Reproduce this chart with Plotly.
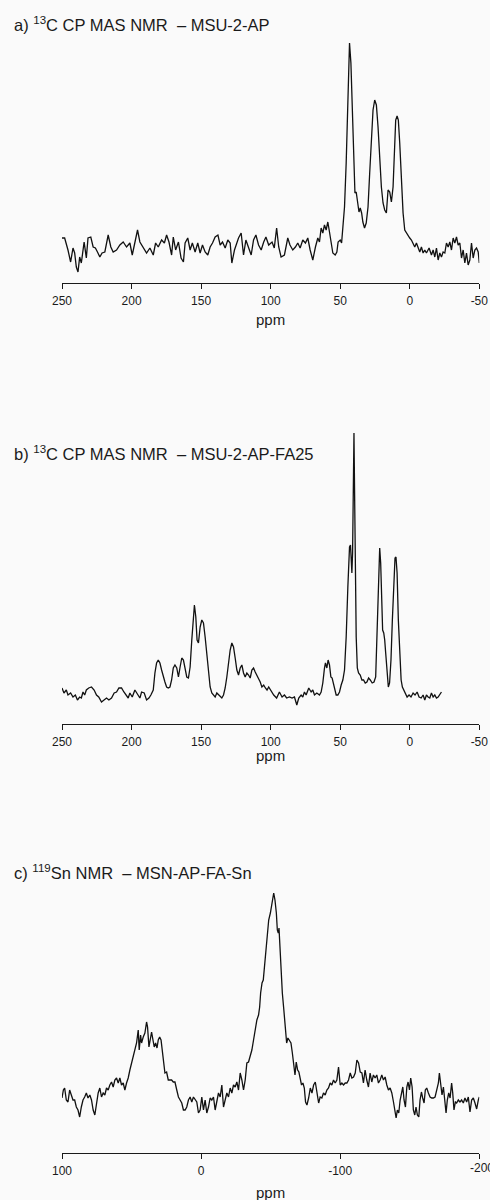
import plotly.graph_objects as go

# ---------------- Panel a: 13C CP MAS NMR - MSU-2-AP ----------------
a_ppm = [250, 248.1, 245.7, 243.8, 242.1, 240.9, 239.7, 238.5, 237.3, 236.1,
         234.1, 232.5, 231.3, 229.3, 227.6, 226.0, 224.5, 222.8, 221.2, 219.2,
         216.8, 214.9, 213.2, 210.8, 208.4, 206.0, 203.6, 201.2, 199.5, 197.6,
         195.7, 194.0, 191.6, 189.2, 186.8, 184.4, 182.7, 180.8, 178.4, 176.4,
         174.8, 173.1, 171.2, 170.0, 168.3, 166.3, 164.4, 162.7, 161.5, 159.6,
         157.9, 156.3, 154.3, 152.4, 150.7, 149.0, 147.1, 145.2, 143.5, 141.8,
         139.9, 137.9, 136.3, 134.6, 132.7, 130.8, 129.1, 127.9, 126.0, 124.3,
         123.1, 121.2, 119.5, 117.8, 115.9, 114.0, 112.3, 110.6, 108.7, 106.8,
         105.0, 103.4, 101.4, 99.0,
         97.4, 95.7, 94.2, 92.5, 90.1, 87.7, 86.1, 84.1, 82.2, 80.5,
         78.8, 76.9, 75.0, 73.3, 71.6, 69.7, 67.8, 66.1, 64.9, 63.7,
         62.5, 61.3, 60.1, 58.9, 57.7, 56.5, 55.3, 53.6, 52.4, 51.5,
         50.0, 49.0, 48.1, 46.9, 45.7, 44.5, 43.3, 42.3, 41.3, 40.4,
         39.4, 38.5, 37.5, 36.5, 35.6, 34.6, 33.7, 32.5, 31.3, 30.0,
         28.8, 27.6, 26.4, 25.2, 24.0, 22.8, 21.6, 20.4, 19.2, 18.0,
         16.8, 15.6, 14.4, 13.2, 12.0, 11.0, 10.1, 9.1, 8.2, 7.2,
         6.0, 4.8, 3.6, 2.4, 1.2, 0.0, -1.2, -2.4, -3.6, -4.8,
         -6.0, -7.2, -8.4, -9.6, -10.8, -12.0, -13.9, -15.6, -16.8, -18.0,
         -19.2, -20.4, -21.6, -22.8, -24.0, -25.2, -26.4, -27.6, -28.8, -30.0,
         -31.2, -32.4, -33.6, -34.8, -36.0, -37.2, -38.4, -39.6, -40.8, -42.0,
         -43.2, -44.4, -45.6, -46.8, -48.0, -49.2, -50.0]
a_int = [45, 45, 33, 21, 35, 30, 16, 11, 26, 20,
         41, 25, 45, 46, 36, 35, 31, 26, 30, 31,
         48, 36, 31, 33, 38, 41, 36, 40, 28, 40,
         53, 41, 36, 30, 35, 28, 40, 36, 43, 40,
         48, 41, 28, 46, 33, 41, 25, 21, 40, 45,
         33, 40, 31, 40, 30, 38, 31, 28, 36, 40,
         46, 48, 38, 41, 35, 43, 40, 20, 33, 41,
         45, 50, 28, 43, 35, 28, 43, 48, 38, 33,
         41, 46, 38, 41,
         35, 55, 36, 26, 28, 45, 38, 33, 36, 40,
         35, 43, 40, 45, 33, 23, 36, 45, 41, 55,
         50, 58, 53, 61, 51, 40, 30, 28, 31, 41,
         43, 40, 56, 76, 120, 186, 240, 220, 166, 120,
         90, 91, 83, 71, 75, 70, 61, 55, 60, 76,
         110, 146, 173, 183, 178, 156, 123, 96, 80, 73,
         70, 93, 91, 81, 96, 140, 163, 167, 163, 140,
         100, 70, 53, 50, 48, 45, 43, 40, 36, 40,
         35, 31, 36, 30, 33, 30, 35, 28, 33, 26,
         35, 23, 30, 26, 31, 30, 40, 36, 41, 33,
         45, 40, 46, 38, 40, 25, 33, 20, 30, 18,
         23, 40, 25, 33, 35, 31, 20]

# ---------------- Panel b: 13C CP MAS NMR - MSU-2-AP-FA25 ----------------
b_ppm = [250, 248.6, 246.9, 245.7, 243.8, 242.1, 240.4, 238.9, 237.3, 236.1,
         234.9, 233.7, 232.5, 230.8, 228.8, 226.9, 225.2, 223.6, 221.6, 219.7,
         218.0, 216.3, 214.4, 212.5, 210.8, 209.1, 207.2, 205.5, 203.6, 202.4,
         201.2, 199.5, 197.6, 195.7, 194.0, 192.8, 190.9, 189.2, 187.5, 186.1,
         184.4, 183.2, 182.0, 180.8, 179.6, 178.4, 177.2, 176.0, 174.8, 173.6,
         172.4, 171.2, 170.0, 168.8, 167.5, 166.3, 165.1, 163.9, 162.7, 161.5,
         160.3, 159.1, 157.9, 156.7, 155.8, 154.8, 153.8, 152.9, 151.9, 150.7,
         149.5, 148.3, 147.1, 145.9, 144.7, 143.5, 142.3, 141.1, 139.9, 138.7,
         137.5, 136.3, 135.1, 133.9, 132.7, 131.5, 130.3, 129.1, 127.9, 126.7,
         125.5, 124.3, 123.1, 121.9, 120.7, 119.5, 118.3, 117.1, 115.9, 114.7,
         113.5, 112.3, 111.1, 109.9, 108.7, 107.5, 106.3, 105.0, 103.8, 102.6,
         101.4, 100.2, 99.0, 97.8,
         95.7, 93.7, 91.8, 90.1, 88.5, 86.5, 84.6, 82.9, 81.2, 79.8,
         78.1, 76.9, 75.7, 74.5, 72.6, 70.9, 69.7, 68.5, 66.8, 64.9,
         63.7, 62.5, 61.3, 60.6, 59.6, 58.7, 57.7, 56.7, 55.8, 54.8,
         53.8, 52.9, 51.7, 50.5, 49.3, 48.1, 46.9, 45.7, 44.5, 43.3,
         42.6, 42.1, 41.6, 41.1, 40.6, 40.1, 39.7, 39.2, 38.5, 37.7,
         36.8, 35.6, 34.4, 33.2, 32.0, 30.8, 29.6, 28.4, 27.0, 25.7,
         24.5, 23.6, 22.6, 21.6, 20.9, 20.2, 19.5, 18.7, 18.0, 17.3,
         16.3, 15.4, 14.5, 13.5, 12.5, 11.5, 10.6, 9.9, 9.1, 8.2,
         7.2, 6.2, 5.3, 4.3, 3.1, 1.9, 0.5, -0.9, -2.4, -3.8,
         -5.3, -6.7, -8.2, -9.6, -10.8, -12.0, -13.2, -14.4, -15.6, -16.8,
         -18.0, -19.2, -20.4, -21.6, -22.8]
b_int = [36, 31, 34, 29, 31, 27, 29, 24, 27, 26,
         32, 29, 34, 36, 37, 34, 29, 27, 22, 24,
         26, 24, 26, 31, 32, 36, 36, 32, 29, 26,
         31, 27, 34, 29, 26, 32, 31, 24, 26, 29,
         34, 51, 61, 64, 61, 54, 47, 42, 37, 36,
         37, 44, 56, 59, 56, 47, 57, 66, 64, 54,
         47, 46, 57, 84, 107, 119, 107, 84, 81, 97,
         104, 101, 87, 71, 52, 37, 31, 29, 27, 31,
         29, 27, 26, 29, 36, 47, 64, 74, 81, 77,
         66, 54, 49, 56, 59, 51, 47, 51, 49, 46,
         54, 56, 52, 49, 46, 42, 37, 39, 36, 34,
         37, 34, 31, 29,
         26, 32, 27, 29, 26, 27, 26, 27, 19, 26,
         29, 27, 32, 29, 36, 32, 34, 29, 31, 29,
         32, 41, 56, 61, 56, 64, 59, 47, 46, 41,
         36, 29, 29, 32, 39, 44, 54, 87, 137, 177,
         179, 157, 151, 171, 237, 291, 237, 154, 87, 56,
         51, 49, 44, 44, 41, 42, 46, 44, 41, 42,
         47, 87, 144, 176, 161, 117, 94, 91, 84, 71,
         51, 37, 41, 64, 104, 144, 166, 167, 151, 104,
         64, 44, 37, 34, 31, 27, 29, 27, 31, 29,
         32, 27, 26, 29, 24, 29, 27, 26, 31, 27,
         29, 26, 27, 29, 32]

# ---------------- Panel c: 119Sn NMR - MSN-AP-FA-Sn ----------------
c_ppm = [100, 99.0, 98.1, 96.9, 95.7, 94.5, 93.3, 92.1, 90.9, 89.7,
         88.5, 87.3, 86.1, 84.9, 83.7, 82.5, 81.3, 80.0, 78.8, 77.6,
         76.4, 75.2, 74.0, 72.8, 71.6, 70.4, 69.2, 68.0, 66.8, 65.6,
         64.4, 63.2, 62.0, 60.8, 59.6, 58.4, 57.2, 56.0, 54.8, 53.6,
         52.4, 51.2, 50.0, 48.8, 47.6, 46.4, 45.2, 44.5, 43.5, 42.8,
         41.6, 40.4, 39.2, 38.5, 37.5, 36.5, 35.6, 34.6, 33.7, 32.7,
         31.7, 30.8, 29.8, 28.8, 27.9, 26.9, 26.0, 24.8, 23.6, 22.4,
         21.2, 20.0, 18.8, 17.5, 16.3, 15.1, 13.9, 12.7, 11.5, 10.3,
         9.1, 7.9, 6.7, 5.5, 4.3, 3.1, 1.9, 0.7, -0.5, -1.7,
         -2.9, -4.1, -5.3, -6.5, -7.7, -8.9, -10.1, -11.3, -12.5, -13.7,
         -14.9, -16.1, -17.3, -18.5, -19.7, -20.9, -22.1, -23.3, -24.5, -25.7,
         -26.9, -28.1, -29.3, -30.5, -31.7, -32.9, -34.1, -35.3, -36.5, -37.7,
         -38.9, -40.1, -41.3, -42.1, -42.8, -43.8, -44.7, -45.7, -46.6, -47.6,
         -48.6, -49.8, -51.0, -52.2,
         -53.1, -54.1, -54.8, -55.5, -56.0, -56.5, -57.4, -58.4, -59.3, -60.0,
         -60.8, -61.5, -62.4, -63.4, -64.6, -65.6, -66.5, -67.5, -68.4, -69.4,
         -70.3, -71.3, -72.2, -73.2, -74.2, -75.1, -76.1, -77.3, -78.5, -79.7,
         -80.9, -82.1, -83.3, -84.5, -85.6, -86.8, -88.0, -89.2, -90.4, -91.6,
         -92.8, -94.0, -95.2, -96.4, -97.6, -98.8, -100.0, -101.2, -102.4, -103.6,
         -104.8, -106.0, -107.2, -108.4, -109.6, -110.8, -112.0, -113.2, -114.4, -115.6,
         -116.7, -117.9, -119.1, -120.3, -121.5, -122.7, -123.9, -125.1, -126.3, -127.5,
         -128.7, -129.9, -131.1, -132.3, -133.5, -134.7, -135.9, -137.1, -138.3, -139.5,
         -140.2, -141.1, -142.1, -143.1, -144.0, -145.0, -145.9, -146.9, -147.9, -148.8,
         -149.8, -150.7, -151.7, -152.6, -153.6, -154.5, -155.5, -156.5, -157.4, -158.4,
         -159.3, -160.3, -161.2, -162.2, -163.4, -164.6, -165.8, -167.0, -168.2, -169.4,
         -170.6, -171.3, -172.2, -173.2, -174.2, -175.1, -176.1, -177.0, -178.0, -179.0,
         -180.1, -180.9, -181.8, -182.8, -183.7, -184.9, -186.1, -187.3, -188.5, -189.7,
         -190.9, -192.1, -193.3, -194.5, -195.7, -196.9, -198.1, -199.3, -200.0]
c_int = [55, 63, 65, 53, 51, 63, 58, 53, 53, 46,
         43, 36, 46, 53, 56, 60, 55, 58, 53, 43,
         38, 50, 60, 65, 56, 60, 58, 65, 63, 68,
         71, 66, 73, 75, 70, 75, 68, 70, 63, 70,
         75, 83, 90, 95, 101, 110, 123, 103, 118, 110,
         116, 120, 131, 126, 106, 115, 121, 113, 106, 110,
         105, 113, 116, 113, 100, 90, 80, 81, 73, 73,
         73, 71, 71, 63, 56, 53, 50, 43, 43, 46,
         53, 56, 51, 56, 53, 51, 40, 43, 56, 43,
         53, 40, 46, 55, 53, 56, 43, 53, 60, 56,
         68, 46, 53, 60, 56, 65, 60, 68, 66, 71,
         63, 80, 73, 63, 73, 90, 91, 96, 103, 113,
         123, 133, 138, 146, 160, 170, 173, 190, 206, 223,
         233, 240, 250, 260,
         253, 240, 223, 220, 225, 210, 186, 160, 146, 133,
         116, 110, 115, 113, 110, 100, 91, 78, 91, 83,
         81, 73, 68, 70, 65, 51, 48, 55, 65, 60,
         68, 71, 58, 50, 56, 55, 60, 58, 63, 65,
         70, 68, 73, 70, 73, 86, 68, 70, 68, 70,
         70, 73, 80, 75, 76, 80, 93, 90, 81, 80,
         70, 83, 73, 66, 80, 71, 78, 75, 78, 70,
         73, 78, 73, 76, 68, 63, 65, 60, 51, 40,
         35, 43, 40, 53, 60, 66, 53, 46, 66, 71,
         63, 75, 66, 43, 38, 46, 38, 36, 53, 61,
         55, 50, 63, 65, 60, 56, 55, 55, 56, 63,
         70, 80, 66, 58, 66, 53, 40, 53, 60, 55,
         70, 60, 43, 51, 50, 53, 51, 53, 50, 55,
         51, 56, 41, 53, 55, 50, 44, 53, 56]

# ---------------- Axis ticks & titles ----------------
ab_tickvals = [250, 200, 150, 100, 50, 0, -50]
ab_ticktext = ["250", "200", "150", "100", "50", "0", "-50"]
c_tickvals = [100, 0, -100, -200]
c_ticktext = ["100", "0", "-100", "-200"]
titles = ["a) <sup>13</sup>C CP MAS NMR\u00a0 \u2013 MSU-2-AP",
          "b) <sup>13</sup>C CP MAS NMR\u00a0 \u2013 MSU-2-AP-FA25",
          "c) <sup>119</sup>Sn NMR\u00a0 \u2013 MSN-AP-FA-Sn"]
axis_title = "ppm"

W, H = 490, 1200
FONT = "Liberation Sans, Arial, sans-serif"
INK = "#1a1a1a"
BG = "#fafafa"

xdom = [62 / W, 479.3 / W]


def ydom(top_px, bottom_px):
    return [1 - bottom_px / H, 1 - top_px / H]


fig = go.Figure()
line = dict(color="#111111", width=1.3)
fig.add_trace(go.Scatter(x=a_ppm, y=a_int, mode="lines", line=line, xaxis="x", yaxis="y", hoverinfo="skip"))
fig.add_trace(go.Scatter(x=b_ppm, y=b_int, mode="lines", line=line, xaxis="x2", yaxis="y2", hoverinfo="skip"))
fig.add_trace(go.Scatter(x=c_ppm, y=c_int, mode="lines", line=line, xaxis="x3", yaxis="y3", hoverinfo="skip"))


def xaxis(rng, anchor, tv, tt):
    return dict(domain=xdom, range=rng, anchor=anchor, tickmode="array", tickvals=tv, ticktext=tt,
                showline=True, linecolor=INK, linewidth=1, ticks="outside", ticklen=5,
                tickcolor=INK, tickwidth=1, showgrid=False, zeroline=False, automargin=False,
                ticklabelstandoff=2,
                tickfont=dict(family=FONT, size=12, color=INK), fixedrange=True)


fig.update_layout(
    width=W, height=H, margin=dict(l=0, r=0, t=0, b=0, autoexpand=False),
    paper_bgcolor=BG, plot_bgcolor=BG, showlegend=False,
    xaxis=xaxis([250, -50], "y", ab_tickvals, ab_ticktext),
    xaxis2=xaxis([250, -50], "y2", ab_tickvals, ab_ticktext),
    xaxis3=xaxis([100, -200], "y3", c_tickvals, c_ticktext),
    yaxis=dict(domain=ydom(30, 283), range=[0, 253], visible=False, fixedrange=True, automargin=False),
    yaxis2=dict(domain=ydom(420, 724), range=[0, 304], visible=False, fixedrange=True, automargin=False),
    yaxis3=dict(domain=ydom(880, 1153), range=[0, 273], visible=False, fixedrange=True, automargin=False),
)

title_y = [24, 453, 872]
ppm_y = [319, 755, 1192]
for t, ty, py in zip(titles, title_y, ppm_y):
    fig.add_annotation(text=t, xref="paper", yref="paper", x=12 / W, y=1 - ty / H,
                       xanchor="left", yanchor="middle", showarrow=False,
                       font=dict(family=FONT, size=16.5, color=INK))
    fig.add_annotation(text=axis_title, xref="paper", yref="paper", x=270.5 / W, y=1 - py / H,
                       xanchor="center", yanchor="middle", showarrow=False,
                       font=dict(family=FONT, size=15, color=INK))

# The last tick label of panel c runs past the page edge (partly cut, as in the source);
# Plotly hides such labels, so it is drawn at the same tick position as an annotation.
fig.add_annotation(text=c_ticktext[-1], xref="x3", yref="paper", x=c_tickvals[-1], y=1 - 1168 / H,
                   xanchor="center", yanchor="middle", showarrow=False, xshift=3,
                   font=dict(family=FONT, size=12, color=INK))

fig.write_html("out.html")
